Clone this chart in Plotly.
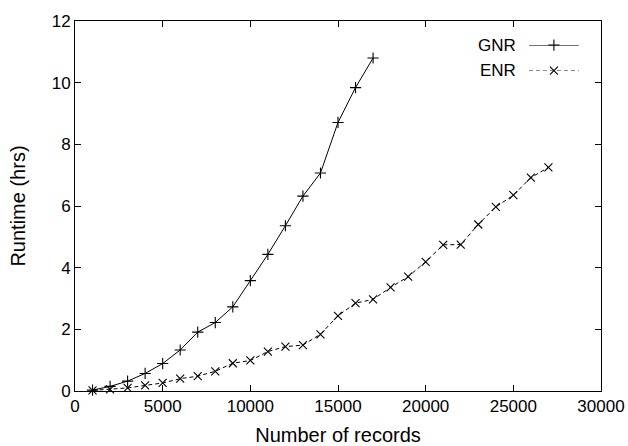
import plotly.graph_objects as go

# Runtime measurements (hours) versus dataset size
records = [1000, 2000, 3000, 4000, 5000, 6000, 7000, 8000, 9000, 10000,
           11000, 12000, 13000, 14000, 15000, 16000, 17000, 18000, 19000,
           20000, 21000, 22000, 23000, 24000, 25000, 26000, 27000]
gnr_hours = [0.03, 0.15, 0.32, 0.57, 0.89, 1.33, 1.91, 2.22, 2.73, 3.58,
             4.43, 5.36, 6.32, 7.07, 8.71, 9.84, 10.8]
enr_hours = [0.02, 0.05, 0.1, 0.18, 0.26, 0.4, 0.48, 0.64, 0.9, 0.99,
             1.28, 1.44, 1.49, 1.84, 2.44, 2.85, 2.97, 3.36, 3.71, 4.19,
             4.74, 4.75, 5.4, 5.97, 6.35, 6.92, 7.25]

x_ticks = [0, 5000, 10000, 15000, 20000, 25000, 30000]
y_ticks = [0, 2, 4, 6, 8, 10, 12]

FONT = "Liberation Sans, Arial, sans-serif"
TICK_SIZE = 17
TITLE_SIZE = 20

PLUS = dict(symbol="cross-thin", size=8, line=dict(color="black", width=1.1))
CROSS = dict(symbol="x-thin", size=8, line=dict(color="black", width=1.1))

fig = go.Figure()

fig.add_trace(go.Scatter(
    x=records[:len(gnr_hours)], y=gnr_hours, mode="lines+markers", name="GNR",
    line=dict(color="black", width=1), marker=PLUS, cliponaxis=False,
))
fig.add_trace(go.Scatter(
    x=records[:len(enr_hours)], y=enr_hours, mode="lines+markers", name="ENR",
    line=dict(color="black", width=1, dash="4px,3px"), marker=CROSS, cliponaxis=False,
))

# Key samples drawn on a small overlay axis in the upper-right corner
key = dict(xaxis="x2", yaxis="y2", showlegend=False, hoverinfo="skip", cliponaxis=False)
fig.add_trace(go.Scatter(x=[0, 1], y=[1, 1], mode="lines",
                         line=dict(color="black", width=1), **key))
fig.add_trace(go.Scatter(x=[0.5], y=[1], mode="markers", marker=PLUS, **key))
fig.add_trace(go.Scatter(x=[0, 1], y=[0, 0], mode="lines",
                         line=dict(color="black", width=1, dash="4px,3px"), **key))
fig.add_trace(go.Scatter(x=[0.5], y=[0], mode="markers", marker=CROSS, **key))

axis_common = dict(
    showgrid=False, zeroline=False, showline=True, linecolor="black", linewidth=1,
    mirror="allticks", ticks="inside", ticklen=6, tickcolor="black", tickwidth=1,
    tickfont=dict(family=FONT, size=TICK_SIZE, color="black"), automargin=False,
)

fig.update_layout(
    width=628, height=446,
    margin=dict(l=75, r=27, t=21, b=55),
    paper_bgcolor="white", plot_bgcolor="white",
    showlegend=False,
    xaxis=dict(range=[0, 30000], tickvals=x_ticks, ticktext=[str(v) for v in x_ticks],
               title=dict(text="Number of records",
                          font=dict(family=FONT, size=TITLE_SIZE, color="black"),
                          standoff=12),
               **axis_common),
    yaxis=dict(range=[0, 12], tickvals=y_ticks, ticktext=[str(v) for v in y_ticks],
               title=dict(text="Runtime (hrs)",
                          font=dict(family=FONT, size=TITLE_SIZE, color="black"),
                          standoff=20),
               **axis_common),
    xaxis2=dict(domain=[0.863, 0.958], range=[0, 1], visible=False, anchor="y2"),
    yaxis2=dict(domain=[0.866, 0.935], range=[0, 1], visible=False, anchor="x2"),
    annotations=[
        dict(text="GNR", xref="paper", yref="paper", x=0.842, y=0.935,
             xanchor="right", yanchor="middle", showarrow=False,
             font=dict(family=FONT, size=TICK_SIZE, color="black")),
        dict(text="ENR", xref="paper", yref="paper", x=0.842, y=0.866,
             xanchor="right", yanchor="middle", showarrow=False,
             font=dict(family=FONT, size=TICK_SIZE, color="black")),
    ],
)

fig.write_html("out.html")
